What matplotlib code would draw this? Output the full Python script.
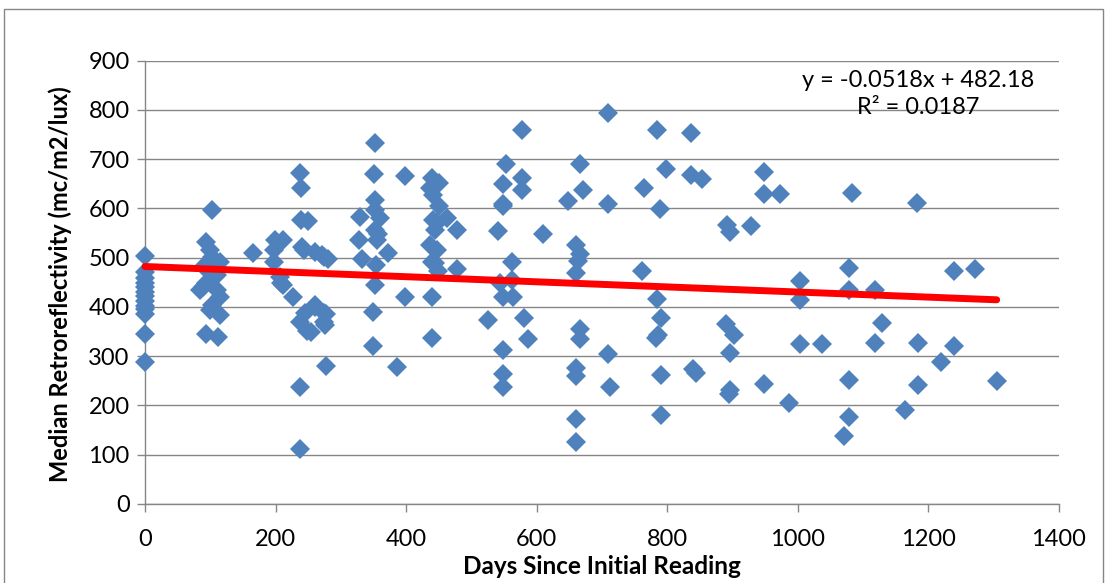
import matplotlib.pyplot as plt
from matplotlib.patches import Rectangle

# Readings: days since the first reading and median retroreflectivity
days = [0, 0, 0, 0, 0, 0, 0, 0, 0, 0, 0, 0, 0,
        102, 94, 100, 102, 115, 94, 110, 89, 110, 115, 102, 115, 94, 112, 84, 105, 94, 90, 100,
        166,
        199, 212, 197, 197, 208, 212, 207, 227,
        237, 239, 239, 250, 240, 243, 260, 271, 275, 281, 245, 237, 255, 260, 275, 275, 278,
        237, 237, 260, 278, 276, 248,
        329, 328, 332,
        352, 351, 352, 352, 360, 352, 355, 354, 352, 350, 350, 373, 357,
        386, 398, 399,
        439, 451, 436, 442, 450, 462, 442, 444, 436, 447, 444, 449, 439, 439, 447, 439,
        478, 478, 526, 541,
        553, 549, 549, 549, 544, 549, 549, 548, 548,
        563, 562, 564, 577, 578, 578, 580, 587, 610, 648,
        667, 671, 661, 666, 664, 661, 666, 666, 660, 660, 661, 661,
        710, 710, 713, 710, 764, 761,
        785, 799, 789, 785, 790, 786, 790, 790, 783,
        837, 837, 853, 840, 845,
        891, 896, 890, 903, 896, 896, 895, 929,
        948, 948, 948, 973, 987, 1003, 1003, 1003, 1038,
        1083, 1078, 1078, 1078, 1079, 1071,
        1118, 1130, 1118, 1164, 1183, 1185, 1185, 1219, 1239, 1239, 1271, 1305]
retro = [503, 470, 458, 448, 440, 430, 422, 412, 402, 395, 385, 345, 288,
         597, 532, 515, 502, 492, 478, 465, 441, 434, 421, 404, 384, 346, 339, 434, 475, 448, 484, 393,
         509,
         536, 536, 516, 492, 448, 445, 461, 421,
         671, 641, 577, 574, 522, 515, 512, 505, 502, 498, 387, 369, 350, 404, 387, 370, 280,
         238, 111, 399, 386, 363, 352,
         583, 536, 498,
         733, 670, 617, 597, 580, 556, 536, 485, 445, 390, 320, 509, 548,
         279, 420, 666,
         661, 651, 641, 627, 604, 580, 576, 556, 526, 516, 489, 474, 420, 338, 570, 492,
         556, 478, 374, 554,
         690, 650, 610, 604, 448, 421, 312, 263, 238,
         492, 455, 421, 759, 662, 637, 377, 336, 549, 616,
         690, 637, 525, 508, 494, 469, 356, 336, 276, 260, 172, 125,
         794, 610, 238, 304, 641, 474,
         760, 680, 599, 417, 378, 343, 262, 181, 338,
         754, 668, 659, 275, 266,
         566, 553, 365, 344, 306, 231, 224, 564,
         675, 629, 243, 629, 206, 453, 415, 325, 325,
         631, 480, 435, 252, 176, 139,
         435, 367, 326, 191, 612, 327, 242, 289, 474, 321, 477, 250]

# Linear trendline shown on the chart
slope = -0.0518
intercept = 482.18
eq_text = "y = -0.0518x + 482.18\nR² = 0.0187"

plt.rcParams['font.family'] = ['Lato', 'DejaVu Sans']
grid_color = '#868686'

fig = plt.figure(figsize=(11.06, 5.83), dpi=100)
ax = fig.add_axes([145 / 1106, 1 - 504 / 583, 913.7 / 1106, 443.3 / 583])

ax.plot(days, retro, linestyle='none', marker='D', markersize=9.8,
        color='#4F81BD', markeredgewidth=0, zorder=3, clip_on=False)

x_end = max(days)
ax.plot([0, x_end], [intercept, slope * x_end + intercept], color='#FF0000',
        linewidth=5, solid_capstyle='round', zorder=4, clip_on=False)

ax.set_xlim(0, 1400)
ax.set_ylim(0, 900)
ax.set_xticks(range(0, 1401, 200))
ax.set_yticks(range(0, 901, 100))
ax.grid(axis='y', color=grid_color, linewidth=1.0, zorder=0)
ax.set_axisbelow(True)

for side in ['top', 'right']:
    ax.spines[side].set_visible(False)
for side in ['left', 'bottom']:
    ax.spines[side].set_color(grid_color)
    ax.spines[side].set_linewidth(1.0)

ax.tick_params(direction='out', length=6, width=1.0, color=grid_color,
               labelsize=17, pad=5)
ax.tick_params(axis='x', pad=12)

ax.set_xlabel('Days Since Initial Reading', fontsize=17.5, fontweight='bold')
ax.set_ylabel('Median Retroreflectivity (mc/m2/lux)', fontsize=17, fontweight='bold')
ax.xaxis.label.set_va('center')
ax.yaxis.label.set_va('center')
ax.xaxis.set_label_coords(0.5, (504 - 566) / 443.3)
ax.yaxis.set_label_coords((60 - 145) / 913.7, (504 - 284) / 443.3)

ax.text((918 - 145) / 913.7, (504 - 94) / 443.3, eq_text, transform=ax.transAxes,
        ha='center', va='center', multialignment='center', fontsize=17,
        linespacing=1.35)

# chart area border
fig.add_artist(Rectangle((4 / 1106, -0.2), 1099 / 1106, 1.2 - 9 / 583,
                         transform=fig.transFigure, fill=False,
                         edgecolor=grid_color, linewidth=1.0))

plt.savefig('out.png', dpi=100)
